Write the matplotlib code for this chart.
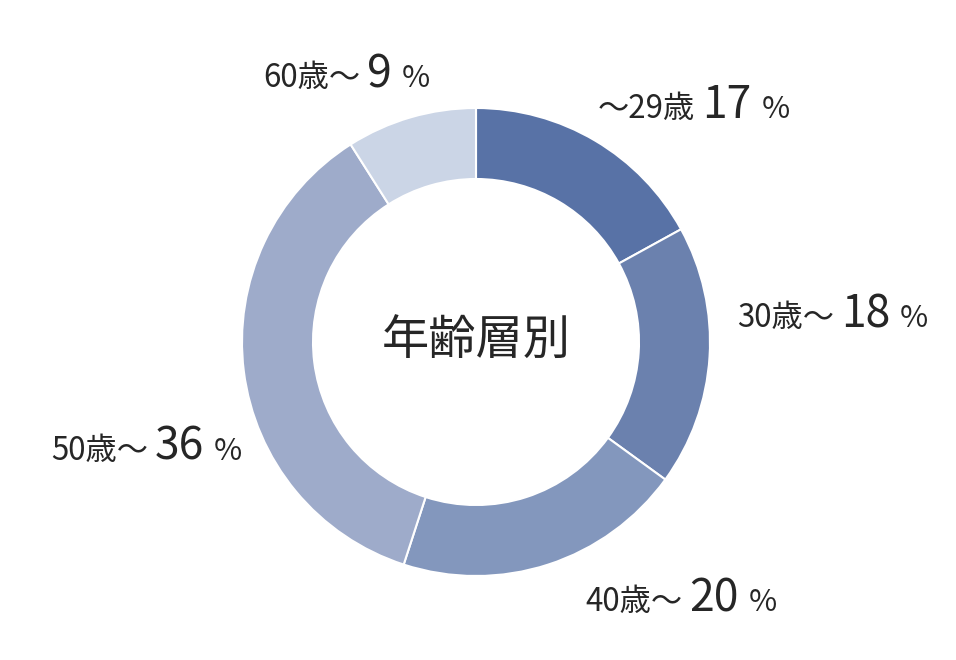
import matplotlib
matplotlib.use("Agg")
import matplotlib.pyplot as plt

plt.rcParams['font.family'] = ['Noto Sans CJK JP', 'DejaVu Sans']

categories = ["〜29歳", "30歳〜", "40歳〜", "50歳〜", "60歳〜"]
values = [17, 18, 20, 36, 9]
colors = ["#5872a6", "#6b81ae", "#8397bd", "#9eabca", "#cbd5e6"]
center_title = "年齢層別"

W, H = 956, 660
fig = plt.figure(figsize=(W / 100, H / 100), dpi=100)
ax = fig.add_axes([0, 0, 1, 1])

cx, cy = 476, H - 342
R, r = 234, 163
ax.pie(values, colors=colors, startangle=90, counterclock=False,
       center=(cx, cy), radius=R, frame=True,
       wedgeprops=dict(width=R - r, edgecolor='white', linewidth=1.5))
ax.set_xlim(0, W)
ax.set_ylim(0, H)
ax.axis('off')

txt_color = '#262626'
ax.text(cx, cy, center_title, ha='center', va='center', fontsize=34, color=txt_color)

# label anchor positions (left x, baseline y in image pixel coords)
label_pos = [(598, 118), (737, 327), (585, 611), (51, 460), (263, 87)]

fig.canvas.draw()
renderer = fig.canvas.get_renderer()

def draw_label(x, y_img, cat, val):
    y = H - y_img
    parts = [(cat, 22.5, 7), (str(val), 32, 10), ("%", 22, 0)]
    for s, fs, gap in parts:
        t = ax.text(x, y, s, ha='left', va='baseline', fontsize=fs, color=txt_color)
        bb = t.get_window_extent(renderer=renderer)
        x = bb.x1 + gap

for (lx, ly), cat, val in zip(label_pos, categories, values):
    draw_label(lx, ly, cat, val)

fig.savefig("out.png", dpi=100)
